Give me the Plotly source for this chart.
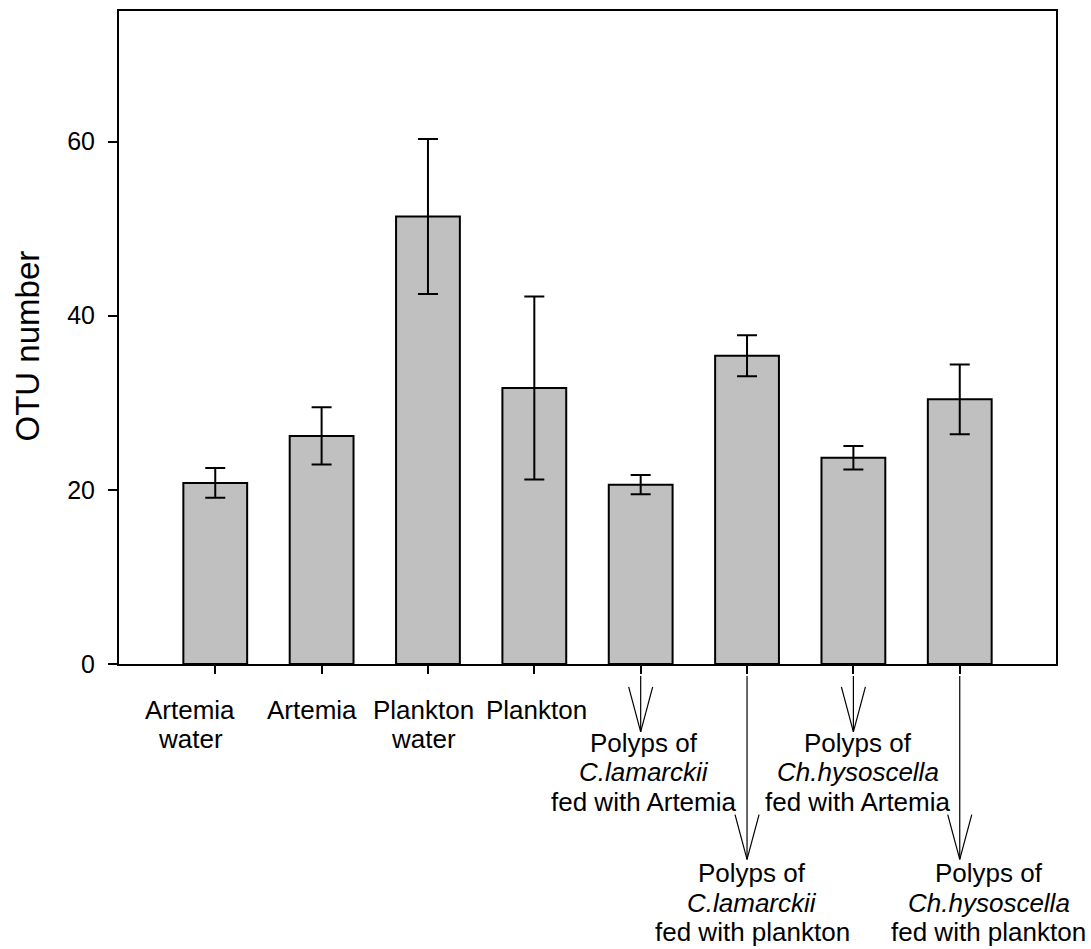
import plotly.graph_objects as go

# ---- data ----
categories = [
    "Artemia<br>water",
    "Artemia",
    "Plankton<br>water",
    "Plankton",
    "Polyps of<br><i>C.lamarckii</i><br>fed with Artemia",
    "Polyps of<br><i>C.lamarckii</i><br>fed with plankton",
    "Polyps of<br><i>Ch.hysoscella</i><br>fed with Artemia",
    "Polyps of<br><i>Ch.hysoscella</i><br>fed with plankton",
]
otu_mean = [20.8, 26.2, 51.4, 31.7, 20.6, 35.4, 23.7, 30.4]
otu_err = [1.7, 3.3, 8.9, 10.5, 1.1, 2.35, 1.35, 4.0]
y_ticks = [0, 20, 40, 60]
y_title = "OTU number"

# ---- layout settings (positions / styles) ----
W, H = 1091, 949
ML, MR, MT, MB = 119, 35, 9, 285
PLOT_H = H - MT - MB
PLOT_BOTTOM = H - MB
FONT = "Liberation Sans, Arial, sans-serif"
FS = 26
LINE_GAP = 29.5
label_first_line_px = [710, 710, 710, 710, 743, 874, 743, 874]
label_xshift = [-25, -10, -4, 2, 3, 5, 5, 29]
arrow_tip_px = [None, None, None, None, 732, 860, 732, 860]
arrow_start_px = 676
arrow_head_len = 45
arrow_half_w = 0.113


def ypaper(py):
    return (PLOT_BOTTOM - py) / PLOT_H


x_idx = list(range(len(categories)))

fig = go.Figure(
    go.Bar(
        x=x_idx,
        y=otu_mean,
        width=0.6,
        marker=dict(color="#c0c0c0", line=dict(color="black", width=2)),
        error_y=dict(type="data", array=otu_err, visible=True,
                     color="black", thickness=2, width=10),
    )
)

annotations = []
for i, lab in enumerate(categories):
    for k, line in enumerate(lab.split("<br>")):
        annotations.append(dict(
            x=i, xref="x",
            y=ypaper(label_first_line_px[i] + k * LINE_GAP), yref="paper",
            text=line, showarrow=False, xanchor="center", yanchor="middle",
            xshift=label_xshift[i],
            font=dict(family=FONT, size=FS, color="black"),
        ))

annotations.append(dict(
    x=(27.5 - ML) / (W - ML - MR), xref="paper",
    y=ypaper(345), yref="paper",
    text=y_title, textangle=-90, showarrow=False,
    xanchor="center", yanchor="middle",
    font=dict(family=FONT, size=33, color="black"),
))

shapes = []
for i, tip in enumerate(arrow_tip_px):
    if tip is None:
        continue
    ln = dict(color="black", width=1.2)
    shapes.append(dict(type="line", xref="x", yref="paper",
                       x0=i, x1=i, y0=ypaper(arrow_start_px), y1=ypaper(tip), line=ln))
    for s in (-1, 1):
        shapes.append(dict(type="line", xref="x", yref="paper",
                           x0=i + s * arrow_half_w, x1=i,
                           y0=ypaper(tip - arrow_head_len), y1=ypaper(tip), line=ln))

fig.update_layout(
    width=W, height=H,
    margin=dict(l=ML, r=MR, t=MT, b=MB),
    paper_bgcolor="white", plot_bgcolor="white",
    showlegend=False,
    font=dict(family=FONT, size=25, color="black"),
    annotations=annotations,
    shapes=shapes,
    xaxis=dict(
        range=[-0.905, 7.905], tickvals=x_idx, showticklabels=False,
        ticks="outside", ticklen=8, tickwidth=2, tickcolor="black",
        showline=True, linecolor="black", linewidth=2, mirror=True,
        showgrid=False, zeroline=False,
    ),
    yaxis=dict(
        range=[0, 75], tickvals=y_ticks,
        ticks="outside", ticklen=9, tickwidth=2, tickcolor="black",
        tickfont=dict(family=FONT, size=25, color="black"),
        ticklabelstandoff=8,
        showline=True, linecolor="black", linewidth=2, mirror=True,
        showgrid=False, zeroline=False,
    ),
)

fig.write_html("out.html")
